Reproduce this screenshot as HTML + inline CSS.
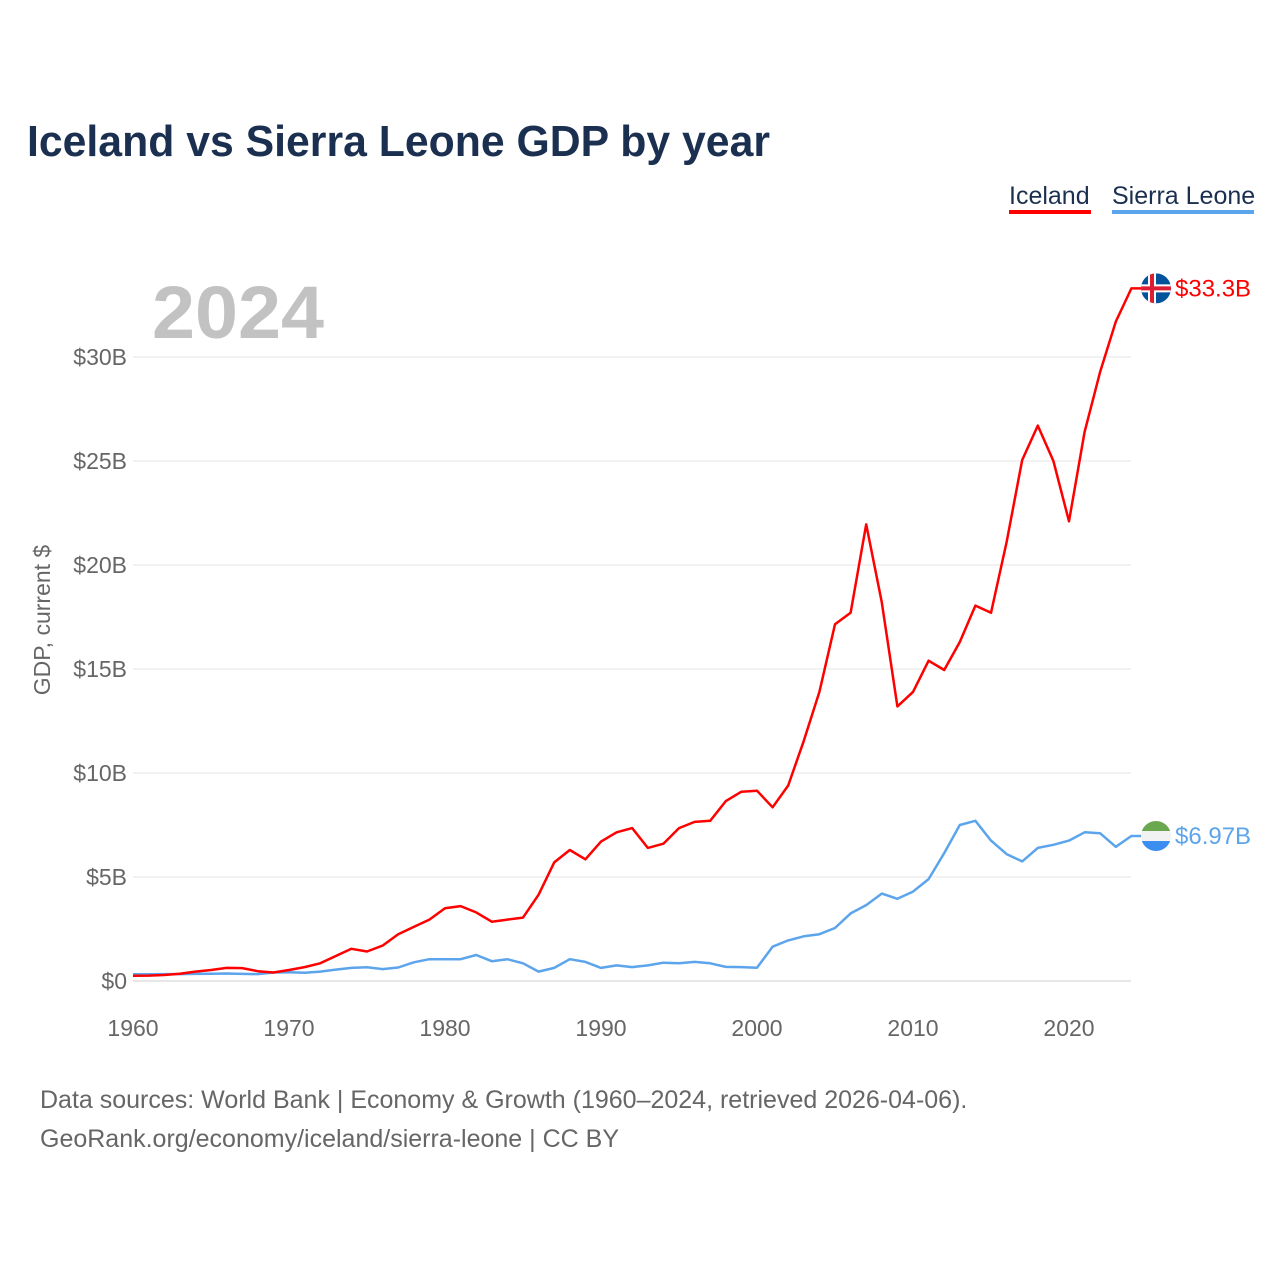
<!DOCTYPE html>
<html><head><meta charset="utf-8"><style>
body{margin:0;background:#fff;}
svg text{font-family:"Liberation Sans",sans-serif;}
</style></head><body>
<svg width="1280" height="1280" viewBox="0 0 1280 1280" xmlns="http://www.w3.org/2000/svg">
<rect width="1280" height="1280" fill="#fff"/>
<text x="27" y="156" font-size="44" font-weight="bold" fill="#1b3050" textLength="743" lengthAdjust="spacingAndGlyphs">Iceland vs Sierra Leone GDP by year</text>
<g>
<text x="1009" y="204" font-size="25" fill="#1b3050">Iceland</text>
<rect x="1009" y="210" width="82" height="4" fill="#ff0000"/>
<text x="1112" y="204" font-size="25" fill="#1b3050">Sierra Leone</text>
<rect x="1112" y="210" width="142" height="4" fill="#5ca4eb"/>
</g>
<text x="152" y="338" font-size="74" font-weight="bold" fill="#c2c2c2" textLength="172" lengthAdjust="spacingAndGlyphs">2024</text>
<g id="grid"></g>
<g id="yticks"></g>
<g id="xticks"></g>
<text transform="translate(50,620) rotate(-90)" text-anchor="middle" font-size="23" fill="#666">GDP, current $</text>
<g id="lines"></g>
<g id="ends"></g>
<text x="40" y="1108" font-size="25" fill="#666">Data sources: World Bank | Economy &amp; Growth (1960–2024, retrieved 2026-04-06).</text>
<text x="40" y="1147" font-size="25" fill="#666">GeoRank.org/economy/iceland/sierra-leone | CC BY</text>
</svg>
<script>
const years=[];for(let y=1960;y<=2024;y++)years.push(y);
const iceland=[0.25,0.26,0.29,0.35,0.45,0.53,0.63,0.62,0.47,0.41,0.53,0.67,0.85,1.2,1.55,1.42,1.7,2.25,2.6,2.95,3.5,3.6,3.3,2.85,2.95,3.05,4.15,5.7,6.3,5.85,6.7,7.15,7.35,6.4,6.6,7.35,7.65,7.7,8.65,9.1,9.15,8.35,9.4,11.55,13.9,17.15,17.7,21.95,18.2,13.2,13.9,15.4,14.95,16.3,18.05,17.7,21.1,25.05,26.7,25.0,22.1,26.4,29.3,31.7,33.3];
const sierraLeone=[0.32,0.32,0.33,0.33,0.34,0.35,0.36,0.34,0.33,0.41,0.42,0.4,0.45,0.55,0.63,0.66,0.57,0.65,0.9,1.05,1.05,1.05,1.25,0.95,1.05,0.85,0.45,0.63,1.05,0.92,0.63,0.75,0.67,0.75,0.88,0.85,0.92,0.85,0.68,0.67,0.64,1.65,1.95,2.15,2.25,2.55,3.25,3.65,4.2,3.95,4.3,4.9,6.15,7.5,7.7,6.75,6.1,5.75,6.4,6.55,6.75,7.15,7.1,6.45,6.97];
const yTicks=[0,5,10,15,20,25,30];
const yTickLabels=["$0","$5B","$10B","$15B","$20B","$25B","$30B"];
const xTicks=[1960,1970,1980,1990,2000,2010,2020];
const endLabels=["$33.3B","$6.97B"];
const NS="http://www.w3.org/2000/svg";
const xs=y=>133+(y-1960)*15.6;
const ys=v=>981-v*20.8;
function mk(tag,attrs,parent){const e=document.createElementNS(NS,tag);for(const k in attrs)e.setAttribute(k,attrs[k]);document.getElementById(parent).appendChild(e);return e;}
yTicks.forEach((t,i)=>{
 const l=mk('line',{x1:133,x2:1131,y1:ys(t),y2:ys(t),stroke:i==0?'#cfcfcf':'#e6e6e6','stroke-width':1},'grid');
 
 
 const tx=mk('text',{x:127,y:ys(t)+8,'text-anchor':'end','font-size':23,fill:'#666'},'yticks');
 tx.textContent=yTickLabels[i];
 
 
});
xTicks.forEach(t=>{
 const tx=mk('text',{x:xs(t),y:1036,'text-anchor':'middle','font-size':23,fill:'#666'},'xticks');
 tx.textContent=t;
 
 
});
function line(data,color,name){
 const d=data.map((v,i)=>(i?'L':'M')+xs(years[i]).toFixed(1)+','+ys(v).toFixed(1)).join('')+'h10';
 const p=mk('path',{d:d,fill:'none',stroke:color,'stroke-width':2.5,'stroke-linejoin':'round'},'lines');
 
 
}
line(sierraLeone,'#5ca4eb','sierra-leone-line');
line(iceland,'#ff0000','iceland-line');
const last=years.length-1;
const yi=ys(iceland[last]), ysl=ys(sierraLeone[last]);
const g=document.getElementById('ends');
g.innerHTML=`
<g>
<clipPath id="ci"><circle cx="1156" cy="${yi}" r="15"/></clipPath>
<g clip-path="url(#ci)"><rect x="1141" y="${yi-15}" width="30" height="30" fill="#02529c"/>
<rect x="1141" y="${yi-4}" width="30" height="8" fill="#fff"/><rect x="1148" y="${yi-15}" width="8" height="30" fill="#fff"/>
<rect x="1141" y="${yi-2}" width="30" height="4" fill="#dc1e35"/><rect x="1150" y="${yi-15}" width="4" height="30" fill="#dc1e35"/></g></g>
<text x="1175" y="${yi+8}" font-size="24" fill="#ff0000">${endLabels[0]}</text>
<g>
<clipPath id="cs"><circle cx="1156" cy="${ysl}" r="15"/></clipPath>
<g clip-path="url(#cs)"><rect x="1141" y="${ysl-15}" width="30" height="10" fill="#6aa84f"/>
<rect x="1141" y="${ysl-5}" width="30" height="10" fill="#f2f2f2"/><rect x="1141" y="${ysl+5}" width="30" height="10" fill="#3b8ef0"/></g></g>
<text x="1175" y="${ysl+8}" font-size="24" fill="#5ca4eb">${endLabels[1]}</text>`;
</script>
</body></html>
